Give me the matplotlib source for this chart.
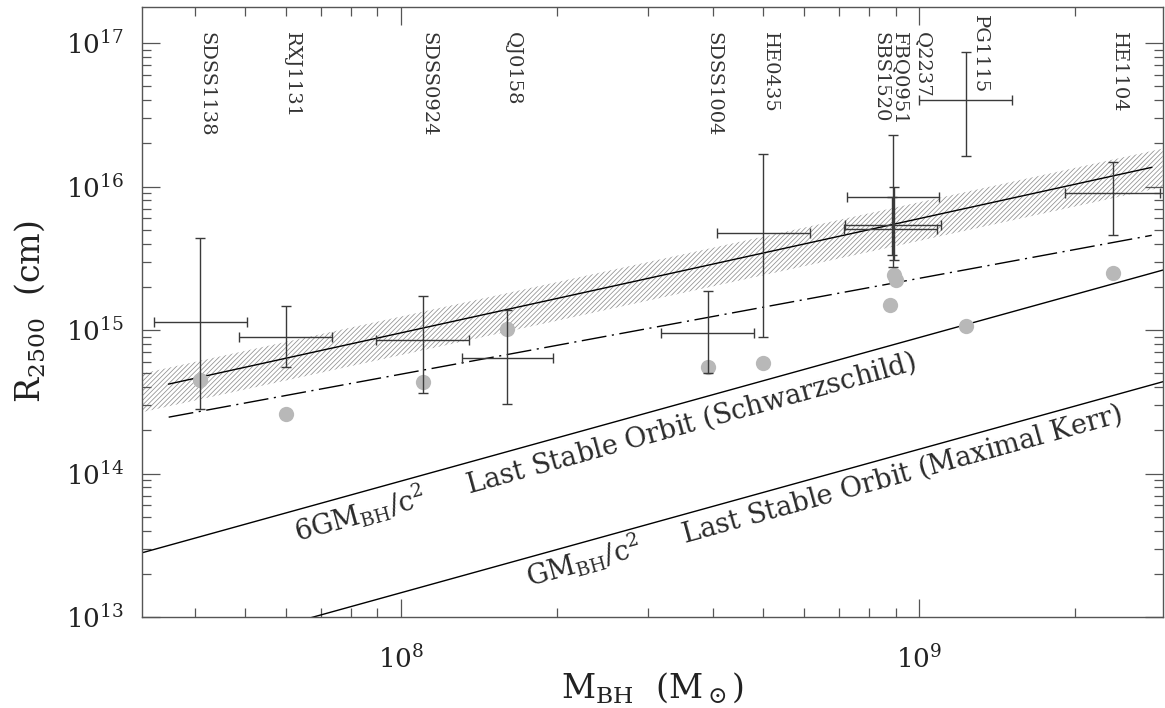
import numpy as np
import matplotlib
matplotlib.use("Agg")
import matplotlib.pyplot as plt
from matplotlib.ticker import LogLocator, FuncFormatter, NullFormatter

plt.rcParams['font.family'] = ['DejaVu Serif']
plt.rcParams['mathtext.fontset'] = 'dejavuserif'
plt.rcParams['hatch.linewidth'] = 0.55
plt.rcParams['hatch.color'] = '#8f8f8f'

# lensed quasars: black hole mass and microlensing size R_2500
names = ['SDSS1138', 'RXJ1131', 'SDSS0924', 'QJ0158', 'SDSS1004', 'HE0435',
         'SBS1520', 'FBQ0951', 'Q2237', 'PG1115', 'HE1104']
mass = np.array([4.09e7, 6.0e7, 1.10e8, 1.6e8, 3.91e8, 5.0e8,
                 8.9e8, 8.95e8, 8.85e8, 1.23e9, 2.37e9])
mass_lo = np.array([3.33e7, 4.87e7, 8.95e7, 1.31e8, 3.17e8, 4.07e8,
                    7.25e8, 7.2e8, 7.15e8, 1.0e9, 1.91e9])
mass_hi = np.array([5.05e7, 7.36e7, 1.35e8, 1.96e8, 4.8e8, 6.15e8,
                    1.09e9, 1.10e9, 1.08e9, 1.51e9, 2.91e9])
rad = np.array([1.13e15, 8.9e14, 8.5e14, 6.4e14, 9.5e14, 4.72e15,
                8.4e15, 5.37e15, 5.04e15, 3.98e16, 8.97e15])
rad_lo = np.array([2.8e14, 5.5e14, 3.63e14, 3.04e14, 5.0e14, 8.9e14,
                   2.73e15, 3.06e15, 3.32e15, 1.62e16, 4.57e15])
rad_hi = np.array([4.35e15, 1.47e15, 1.72e15, 1.37e15, 1.86e15, 1.68e16,
                   2.27e16, 1.0e16, 8.4e15, 8.6e16, 1.48e16])

# where the names sit (mass, axes fraction of top)
label_mass = [4.21e7, 6.16e7, 1.13e8, 1.64e8, 4.0e8, 5.15e8,
              8.4e8, 9.17e8, 1.016e9, 1.31e9, 2.43e9]
label_top = [0.959, 0.959, 0.959, 0.959, 0.959, 0.959,
             0.959, 0.959, 0.959, 0.987, 0.959]

# grey points (thin disk prediction)
dot_mass = [4.09e7, 6.0e7, 1.10e8, 1.6e8, 3.91e8, 5.0e8,
            8.95e8, 9.0e8, 8.8e8, 1.23e9, 2.37e9]
dot_rad = [4.47e14, 2.6e14, 4.33e14, 1.01e15, 5.5e14, 5.87e14,
           2.41e15, 2.22e15, 1.49e15, 1.06e15, 2.49e15]

# fitted relations (end points)
fit_mass = [3.56e7, 2.81e9]
fit_rad = [4.2e14, 1.36e16]
dd_mass = [3.56e7, 2.81e9]
dd_rad = [2.47e14, 4.57e15]
band_frac = 0.3

r_g = 1.477e5  # GM_sun/c^2 in cm
xlim = (10**7.5, 2.95e9)
ylim = (1e13, 1.78e17)

fig = plt.figure(figsize=(11.65, 7.08), dpi=100)
ax = fig.add_axes([0.1219, 0.1285, 0.8761, 0.8615])
ax.set_xscale('log')
ax.set_yscale('log')
ax.set_xlim(xlim)
ax.set_ylim(ylim)

# hatched band round the fit
b, a = np.polyfit(np.log10(fit_mass), np.log10(fit_rad), 1)
mm = np.array(xlim)
fit_full = 10**(a + b*np.log10(mm))
ax.fill_between(mm, fit_full*(1-band_frac), fit_full*(1+band_frac),
                facecolor='none', edgecolor='#8f8f8f', hatch='///////', linewidth=0)
ax.plot(fit_mass, fit_rad, color='black', lw=1.0)
ax.plot(dd_mass, dd_rad, color='black', lw=1.0, dashes=[18, 4, 1.5, 4])

ax.plot(mm, 6*r_g*mm, color='black', lw=1.0)
ax.plot(mm, r_g*mm, color='black', lw=1.0)

ax.plot(dot_mass, dot_rad, 'o', color='#b8b8b8', ms=11, mec='none', zorder=3)

ax.errorbar(mass, rad, xerr=[mass-mass_lo, mass_hi-mass],
            yerr=[rad-rad_lo, rad_hi-rad], fmt='none', ecolor='#3a3a3a',
            elinewidth=1.0, capsize=3.6, capthick=1.0, zorder=4)

for n, m, t in zip(names, label_mass, label_top):
    ax.text(m, t, n, transform=ax.get_xaxis_transform(), rotation=270,
            ha='center', va='top', fontsize=14, color='#333333')

# labels along the last stable orbit lines
p1 = ax.transData.transform((1e8, 1e14))
p2 = ax.transData.transform((1e9, 1e15))
ang = np.degrees(np.arctan2(p2[1]-p1[1], p2[0]-p1[0]))
ax.text(6.3e7, 3.33e13, r'6GM$_{\rm BH}$/c$^2$     Last Stable Orbit (Schwarzschild)',
        rotation=ang, rotation_mode='anchor', ha='left', va='baseline',
        fontsize=19.5, color='#2a2a2a')
ax.text(1.77e8, 1.62e13, r'GM$_{\rm BH}$/c$^2$     Last Stable Orbit (Maximal Kerr)',
        rotation=ang, rotation_mode='anchor', ha='left', va='baseline',
        fontsize=19.5, color='#2a2a2a')

fmt = FuncFormatter(lambda v, p: r'10$^{%d}$' % round(np.log10(v)))
for axis in (ax.xaxis, ax.yaxis):
    axis.set_major_locator(LogLocator(base=10))
    axis.set_minor_locator(LogLocator(base=10, subs=np.arange(2, 10)))
    axis.set_major_formatter(fmt)
    axis.set_minor_formatter(NullFormatter())

ax.tick_params(which='both', direction='in', top=True, right=True,
               colors='#555555', labelcolor='#222222', labelsize=19)
ax.tick_params(which='major', length=13, width=0.9)
ax.tick_params(which='minor', length=6.5, width=0.9)
ax.tick_params(axis='x', pad=20)
ax.tick_params(axis='y', pad=13)
for s in ax.spines.values():
    s.set_color('#555555')
    s.set_linewidth(1.0)

ax.set_xlabel(r'M$_{\rm BH}$  (M$_\odot$)', fontsize=24, color='#222222')
ax.set_ylabel(r'R$_{2500}$  (cm)', fontsize=24, color='#222222')
ax.xaxis.set_label_coords(0.5, -0.088)
ax.yaxis.set_label_coords(-0.093, 0.5)

fig.savefig('out.png', dpi=100)
